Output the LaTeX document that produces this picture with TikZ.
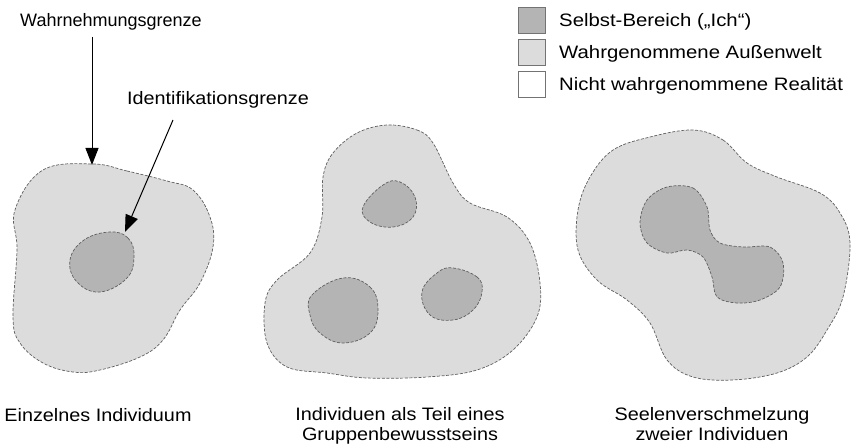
\documentclass[tikz,border=0pt]{standalone}
\usepackage{fontspec}
\setmainfont{Liberation Sans}
\newfontfamily\widesans[FakeStretch=1.1]{Liberation Sans}
\newfontfamily\widersans[FakeStretch=1.13]{Liberation Sans}
\usetikzlibrary{arrows.meta}
\definecolor{selfgray}{RGB}{180,180,180}
\definecolor{worldgray}{RGB}{220,220,220}
\definecolor{edgegray}{RGB}{95,95,95}
\tikzset{
  outerblob/.style={fill=worldgray, draw=edgegray, line width=0.7pt, dash pattern=on 3pt off 1.6pt},
  innerblob/.style={fill=selfgray, draw=edgegray, line width=0.7pt, dash pattern=on 3pt off 1.6pt},
  pointer/.style={draw=black, line width=1pt, -{Triangle[length=17pt,width=13pt]}},
  lbl/.style={inner sep=0pt, font=\fontsize{18}{22}\selectfont},
  legtext/.style={inner sep=0pt, font=\widersans\fontsize{18}{22}\selectfont},
  caption/.style={inner sep=0pt, align=center, font=\widesans\fontsize{18}{20}\selectfont},
  legbox/.style={draw=black!55, line width=0.6pt, minimum width=27pt, minimum height=26pt, inner sep=0pt},
}
\begin{document}
\begin{tikzpicture}[x=1pt,y=-1pt]
\useasboundingbox (0,0) rectangle (864,446);

% ---- single individual ----
\draw[outerblob] plot[smooth cycle, tension=0.65] coordinates {
  (93,164) (127,171) (167,181) (193,190) (210,217) (213,247) (200,283)
  (180,310) (163,340) (140,357) (100,370) (73,372) (43,363) (20,343)
  (13,317) (17,250) (15,210) (43,170)};
\draw[innerblob] plot[smooth cycle, tension=0.7] coordinates {
  (110,232) (128,238) (134,256) (127,278) (100,292) (77,282) (70,260) (84,240)};

% ---- group consciousness ----
\draw[outerblob] plot[smooth cycle, tension=0.6] coordinates {
  (387,125) (417,130) (433,143) (453,183) (470,203) (507,217) (530,243)
  (540,283) (537,317) (513,350) (477,370) (427,377) (367,378) (327,373)
  (287,367) (267,343) (265,303) (277,280) (310,253) (322,217) (323,177)
  (333,153) (357,133)};
\draw[innerblob] plot[smooth cycle, tension=0.7] coordinates {
  (400,182) (415,197) (413,217) (393,227) (370,222) (363,207) (383,185)};
\draw[innerblob] plot[smooth cycle, tension=0.7] coordinates {
  (343,278) (370,287) (378,310) (370,333) (343,343) (320,333) (310,315)
  (312,295)};
\draw[innerblob] plot[smooth cycle, tension=0.7] coordinates {
  (453,268) (477,277) (482,292) (473,310) (453,320) (430,315) (422,292)
  (437,273)};

% ---- fusion of two souls ----
\draw[outerblob] plot[smooth cycle, tension=0.6] coordinates {
  (693,130) (723,140) (747,163) (777,177) (820,193) (840,213) (850,243)
  (843,297) (827,330) (807,357) (777,373) (733,380) (693,377) (667,360)
  (650,323) (627,300) (597,280) (578,250) (578,210) (590,177) (613,150)
  (650,137)};
\draw[innerblob] plot[smooth cycle, tension=0.55] coordinates {
  (667,187) (693,188) (707,207) (710,230) (720,243) (743,247) (770,247)
  (783,263) (780,287) (760,300) (737,303) (717,297) (712,277) (703,257)
  (687,250) (667,253) (647,243) (640,223) (647,200)};

% ---- pointer labels ----
\node[lbl, anchor=base west] (wlab) at (20,27) {Wahrnehmungsgrenze};
\node[lbl, font=\widesans\fontsize{18}{22}\selectfont, anchor=base west] (ilab) at (127,105) {Identifikationsgrenze};
\coordinate (wtip) at (92,165);
\coordinate (istart) at (173,120);
\coordinate (itip) at (125,232);
\draw[pointer] (wlab.south -| wtip) ++(0,6) -- (wtip);
\draw[pointer] (istart) -- (itip);

% ---- legend ----
\node[legbox, fill=selfgray] (k1) at (532,20) {};
\node[legbox, fill=worldgray] (k2) at (532,52) {};
\node[legbox, fill=white] (k3) at (532,84) {};
\node[legtext, anchor=base west] (t1) at (559,27) {Selbst-Bereich („Ich“)};
\node[legtext, anchor=base west] (t2) at (559,59) {Wahrgenommene Außenwelt};
\node[legtext, anchor=base west] (t3) at (559,91) {Nicht wahrgenommene Realität};

% ---- captions ----
\node[caption, anchor=base] (c1) at (98,421) {Einzelnes Individuum};
\node[caption, anchor=base] (c2) at (400,440) {Individuen als Teil eines\\Gruppenbewusstseins};
\node[caption, anchor=base] (c3) at (712,440) {Seelenverschmelzung\\zweier Individuen};
\end{tikzpicture}
\end{document}
